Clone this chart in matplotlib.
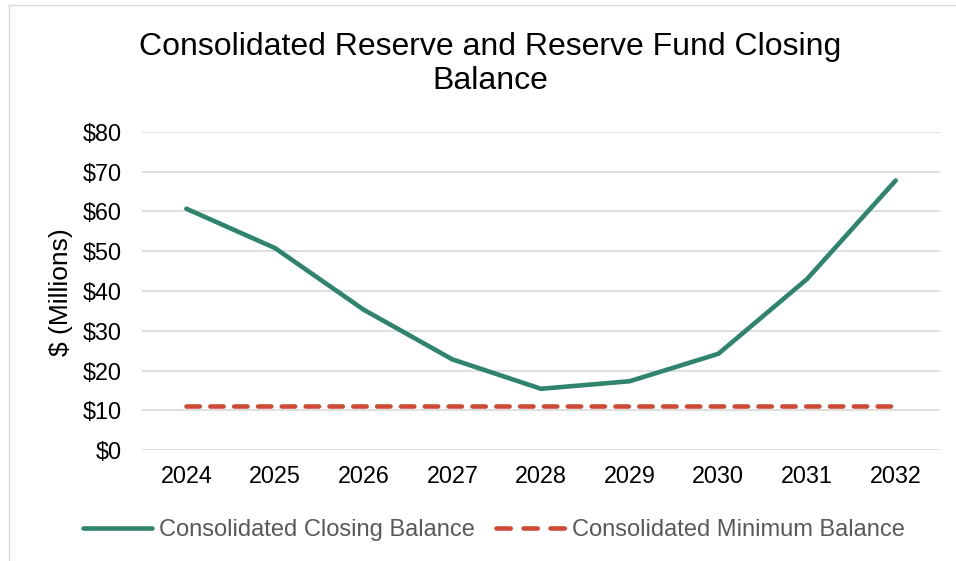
import matplotlib
matplotlib.use("Agg")
import matplotlib.pyplot as plt
from matplotlib.lines import Line2D

years = ["2024", "2025", "2026", "2027", "2028", "2029", "2030", "2031", "2032"]
closing_balance = [60.7, 50.8, 35.3, 22.8, 15.4, 17.3, 24.2, 43.0, 67.8]
minimum_balance = [11.0] * 9
y_ticks = [0, 10, 20, 30, 40, 50, 60, 70, 80]
y_tick_labels = ["$0", "$10", "$20", "$30", "$40", "$50", "$60", "$70", "$80"]

plt.rcParams['font.family'] = ['Liberation Sans', 'DejaVu Sans']

fig = plt.figure(figsize=(9.56, 5.61), dpi=100)
ax = fig.add_axes([142/956, 1-450/561, (940-142)/956, (450-132)/561])

x = list(range(len(years)))
green = "#2E846C"
red = "#CF4A35"
l1, = ax.plot(x, closing_balance, color=green, lw=3.3, solid_capstyle="round",
              solid_joinstyle="round", label="Consolidated Closing Balance", zorder=3)
ax.plot(x, minimum_balance, color=red, lw=3.3, dashes=(2.9, 2.3),
        dash_capstyle="round", zorder=3)
red_proxy = Line2D([], [], color=red, lw=3.3, dashes=(3.1, 2.8), dash_capstyle="round",
                   label="Consolidated Minimum Balance")

ax.set_xlim(-0.5, len(years) - 0.5)
ax.set_ylim(0, 80)
ax.set_xticks(x)
ax.set_xticklabels(years)
ax.set_yticks(y_ticks)
ax.set_yticklabels(y_tick_labels)
ax.tick_params(axis="both", length=0, labelsize=16.8, colors="#000000")
ax.tick_params(axis="x", pad=11)
ax.tick_params(axis="y", pad=14.4)
ax.yaxis.grid(True, color="#D9D9D9", lw=1.2)
ax.set_axisbelow(True)
for s in ax.spines.values():
    s.set_visible(False)

fig.text(61/956, 1-292/561, "$ (Millions)", rotation=90, ha="center", va="center",
         fontsize=19)

fig.text(490/956, 1-64/561, "Consolidated Reserve and Reserve Fund Closing\nBalance",
         ha="center", va="center", fontsize=23, linespacing=1.15)

leg = fig.legend(handles=[l1, red_proxy], loc="center", bbox_to_anchor=(494/956, 1-530/561),
                 ncol=2, frameon=False, fontsize=17, handlelength=2.9, columnspacing=0.9,
                 handletextpad=0.3, borderpad=0, borderaxespad=0)
for t in leg.get_texts():
    t.set_color("#595959")

fig.add_artist(Line2D([9/956, 1], [1-5/561, 1-5/561], transform=fig.transFigure,
                      color="#D9D9D9", lw=1))
fig.add_artist(Line2D([9/956, 9/956], [0, 1-5/561], transform=fig.transFigure,
                      color="#D9D9D9", lw=1))

fig.savefig("out.png", dpi=100)
